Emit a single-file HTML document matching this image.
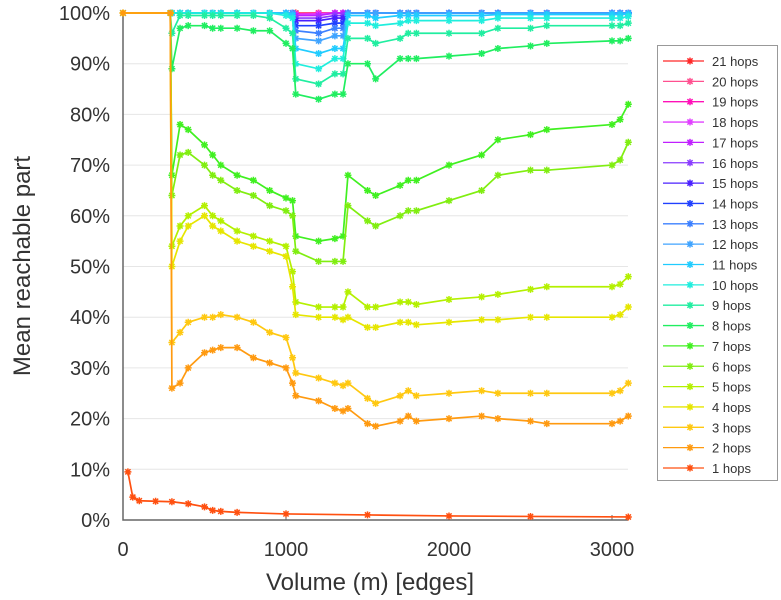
<!DOCTYPE html>
<html><head><meta charset="utf-8"><style>
body{margin:0;background:#fff;width:781px;height:600px;overflow:hidden}
svg{display:block;font-family:"Liberation Sans",sans-serif}
</style></head><body>
<svg id="chart" width="781" height="600"></svg>
<script>
const xs=[0,290,300,350,400,500,550,600,700,800,900,1000,1040,1060,1200,1300,1350,1380,1500,1550,1700,1750,1800,2000,2200,2300,2500,2600,3000,3050,3100];
const hop1X=[30,60,100,200,300,400,500,550,600,700,1000,1500,2000,2500,3100];
const hop1Y=[9.5,4.5,3.8,3.7,3.6,3.2,2.6,1.9,1.7,1.5,1.2,1.0,0.8,0.7,0.6];
const hop2=[100,100,26,27,30,33,33.5,34,34,32,31,30,27,24.5,23.5,22,21.5,22,19,18.5,19.5,20.5,19.5,20,20.5,20,19.5,19,19,19.5,20.5];
const hop3=[100,100,35,37,39,40,40,40.5,40,39,37,36,32,29,28,27,26.5,27,24,23,24.5,25.5,24.5,25,25.5,25,25,25,25,25.5,27];
const hop4=[100,100,50,55,58,60,58,57,55,54,53,52,46,40.5,40,40,39.5,40,38,38,39,39,38.5,39,39.5,39.5,40,40,40,40.5,42];
const hop5=[100,100,54,58,60,62,60,59,57,56,55,54,49,43,42,42,42,45,42,42,43,43,42.5,43.5,44,44.5,45.5,46,46,46.5,48];
const hop6=[100,100,64,72,72.5,70,68,67,65,64,62,61,60,53,51,51,51,62,59,58,60,61,61,63,65,68,69,69,70,71,74.5];
const hop7=[100,100,68,78,77,74,72,70,68,67,65,63.5,63,56,55,55.5,56,68,65,64,66,67,67,70,72,75,76,77,78,79,82];
const hop8=[100,100,89,97,97.5,97.5,97,97,97,96.5,96.5,94,93,84,83,84,84,90,90,87,91,91,91,91.5,92,93,93.5,94,94.5,94.5,95];
const hop9=[100,100,96,99.5,99.5,99.5,99.5,99.5,99.5,99.5,99,97,96,87,86,88,88,95,95,94,95,96,96,96,96,97,97,97.5,97.5,97.5,98];
const hop10=[100,100,100,100,100,100,100,100,100,100,100,99.5,99,90,89,91,91,98,98,97.5,98,98.5,98.5,98.5,98.5,99,99,99,99,99,99.3];
const hop11=[100,100,100,100,100,100,100,100,100,100,100,100,99.5,93,92,93,93,99.5,99.5,99,99.5,99.5,99.5,99.5,99.5,99.7,99.7,99.7,99.7,99.7,99.8];
const hop12=[100,100,100,100,100,100,100,100,100,100,100,100,100,95,94.5,95.5,95.5,100,100,100,100,100,100,100,100,100,100,100,100,100,100];
const hop13=[100,100,100,100,100,100,100,100,100,100,100,100,100,96.5,96,97,97,100,100,100,100,100,100,100,100,100,100,100,100,100,100];
const hop14=[100,100,100,100,100,100,100,100,100,100,100,100,100,97.5,97.5,98,98,100,100,100,100,100,100,100,100,100,100,100,100,100,100];
const hop15=[100,100,100,100,100,100,100,100,100,100,100,100,100,98.5,98.5,99,99,100,100,100,100,100,100,100,100,100,100,100,100,100,100];
const hop16=[100,100,100,100,100,100,100,100,100,100,100,100,100,99,99,99.5,99.5,100,100,100,100,100,100,100,100,100,100,100,100,100,100];
const hop17=[100,100,100,100,100,100,100,100,100,100,100,100,100,99.5,99.5,100,100,100,100,100,100,100,100,100,100,100,100,100,100,100,100];
const hop18=[100,100,100,100,100,100,100,100,100,100,100,100,100,99.7,99.8,100,100,100,100,100,100,100,100,100,100,100,100,100,100,100,100];
const hop19=[100,100,100,100,100,100,100,100,100,100,100,100,100,99.8,99.9,100,100,100,100,100,100,100,100,100,100,100,100,100,100,100,100];
const hop20=[100,100,100,100,100,100,100,100,100,100,100,100,100,99.9,100,100,100,100,100,100,100,100,100,100,100,100,100,100,100,100,100];
const hop21=[100,100,100,100,100,100,100,100,100,100,100,100,100,100,100,100,100,100,100,100,100,100,100,100,100,100,100,100,100,100,100];
const yTicks=[0,10,20,30,40,50,60,70,80,90,100];
const xTicks=[0,1000,2000,3000];
const colors=["#ff5010","#ff9a10","#ffc810","#e6e600","#b4f000","#80ee10","#40f020","#20ee60","#20eea0","#20eedd","#20ccff","#40a4ff","#3c80ff","#2040ff","#4a20ff","#8a3cff","#c020ff","#e040ff","#ff10b8","#ff5090","#ff2828"];
const series=[hop2,hop3,hop4,hop5,hop6,hop7,hop8,hop9,hop10,hop11,hop12,hop13,hop14,hop15,hop16,hop17,hop18,hop19,hop20,hop21];
const X0=123,XS=0.163,Y0=520,YS=5.07;
const sx=v=>X0+v*XS, sy=v=>Y0-v*YS;
const svg=document.getElementById('chart');const NS='http://www.w3.org/2000/svg';
function mk(t,a,p){const e=document.createElementNS(NS,t);for(const k in a)e.setAttribute(k,a[k]);(p||svg).appendChild(e);return e;}
yTicks.forEach(t=>{
 const g=mk('line',{x1:X0,x2:628,y1:sy(t),y2:sy(t),stroke:'#e6e6e6','stroke-width':1});
 
 
 const tx=mk('text',{x:110,y:sy(t)+7,'text-anchor':'end','font-size':20,fill:'#333'});tx.textContent=t+'%';
 
 
});
xTicks.forEach(t=>{
 const tx=mk('text',{x:sx(t),y:556,'text-anchor':'middle','font-size':20,fill:'#333'});tx.textContent=t;
 
 
 mk('line',{x1:sx(t),x2:sx(t),y1:Y0,y2:Y0-5,stroke:'#666'});
});
const ax=mk('path',{d:`M${X0} 12V${Y0}H628`,stroke:'#666','stroke-width':1.5,fill:'none'});


const xt=mk('text',{x:370,y:590,'text-anchor':'middle','font-size':24,fill:'#333'});xt.textContent='Volume (m) [edges]';


const yt=mk('text',{x:0,y:0,'text-anchor':'middle','font-size':24,fill:'#333',transform:'translate(30,266) rotate(-90)'});yt.textContent='Mean reachable part';


function star(g,x,y,c){mk('path',{d:`M${x-3.5} ${y}h7M${x} ${y-3.5}v7M${x-2.6} ${y-2.6}l5.2 5.2M${x-2.6} ${y+2.6}l5.2 -5.2`,stroke:c,'stroke-width':1.5},g);}
function drawSeries(xa,ya,c,name){
 const g=mk('g',{});
 
 
 mk('polyline',{points:xa.map((x,i)=>sx(x)+','+sy(ya[i])).join(' '),fill:'none',stroke:c,'stroke-width':1.7},g);
 xa.forEach((x,i)=>star(g,sx(x),sy(ya[i]),c));
}
for(let i=series.length-1;i>=0;i--)drawSeries(xs,series[i],colors[i+1],'series-'+(i+2)+'-hops');
drawSeries(hop1X,hop1Y,colors[0],'series-1-hops');
const lg=mk('g',{});


mk('rect',{x:657.5,y:45.5,width:120,height:435,fill:'#fff',stroke:'#999'},lg);
for(let n=21;n>=1;n--){
 const y=61+(21-n)*20.35,c=colors[n-1];
 const e=mk('g',{},lg);
 
 
 mk('line',{x1:663,x2:704,y1:y,y2:y,stroke:c,'stroke-width':1.3},e);
 star(e,690,y,c);
 const t=mk('text',{x:712,y:y+5,'font-size':13,fill:'#333'},e);t.textContent=n+' hops';
}
</script>
</body></html>
